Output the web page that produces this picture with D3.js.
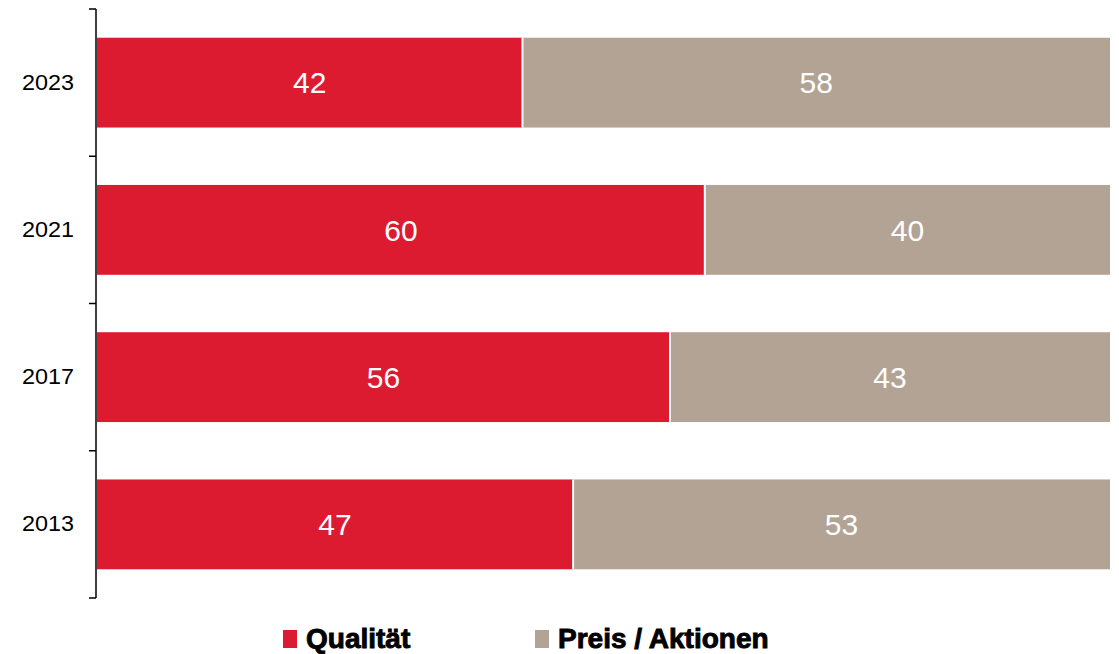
<!DOCTYPE html>
<html>
<head>
<meta charset="utf-8">
<script src="https://cdn.jsdelivr.net/npm/d3@7"></script>
<style>
  body { margin: 0; background: #fff; }
  svg { display: block; font-family: "Liberation Sans", Arial, sans-serif; }
</style>
</head>
<body>
<svg id="chart"></svg>
<script>
// data
const years = ['2023', '2021', '2017', '2013'];
const qualitaet = [42, 60, 56, 47];
const preis = [58, 40, 43, 53];
const seriesNames = ['Qualität', 'Preis / Aktionen'];
const seriesColors = ['#DC1B31', '#B2A394'];

const width = 1119, height = 654;
const margin = {top: 9, right: 9, bottom: 56, left: 97};

const svg = d3.select('#chart')
    .attr('width', width)
    .attr('height', height);

const rows = years.map((y, i) => ({year: y, values: [qualitaet[i], preis[i]]}));

// scales
const yScale = d3.scaleBand()
    .domain(years)
    .range([margin.top, height - margin.bottom]);

const xScale = d3.scaleLinear()
    .domain([0, 1])
    .range([margin.left, width - margin.right]);

const barH = yScale.bandwidth() * 0.61;
const barY = d => yScale(d) + (yScale.bandwidth() - barH) / 2;

// each row is normalised to its own total
rows.forEach(r => {
    const total = d3.sum(r.values);
    let acc = 0;
    r.segments = r.values.map((v, k) => {
        const s = {year: r.year, value: v, k: k, x0: acc / total, x1: (acc + v) / total};
        acc += v;
        return s;
    });
});
const segs = rows.flatMap(r => r.segments);

svg.append('g').selectAll('rect')
    .data(segs)
    .join('rect')
    .attr('x', d => xScale(d.x0))
    .attr('width', d => xScale(d.x1) - xScale(d.x0))
    .attr('y', d => barY(d.year))
    .attr('height', barH)
    .attr('fill', d => seriesColors[d.k]);

// white separators between segments
svg.append('g').selectAll('line')
    .data(segs.filter(d => d.k > 0))
    .join('line')
    .attr('x1', d => xScale(d.x0))
    .attr('x2', d => xScale(d.x0))
    .attr('y1', d => barY(d.year))
    .attr('y2', d => barY(d.year) + barH)
    .attr('stroke', '#fff')
    .attr('stroke-width', 2);

// value labels
svg.append('g').selectAll('text')
    .data(segs)
    .join('text')
    .attr('x', d => (xScale(d.x0) + xScale(d.x1)) / 2)
    .attr('y', d => yScale(d.year) + yScale.bandwidth() / 2)
    .attr('dy', '0.36em')
    .attr('text-anchor', 'middle')
    .attr('fill', '#fff')
    .attr('font-size', 30)
    .text(d => d.value);

// y axis: labels at band centres, ticks at band edges
const axisX = margin.left - 1;
const yAxisG = svg.append('g')
    .attr('transform', `translate(${axisX},0)`)
    .call(d3.axisLeft(yScale).tickSize(0).tickPadding(22));
yAxisG.select('.domain').remove();
yAxisG.selectAll('text')
    .attr('font-size', 21.5)
    .attr('font-family', '"Liberation Sans", Arial, sans-serif')
    .attr('fill', '#000')
    .attr('textLength', 52)
    .attr('lengthAdjust', 'spacingAndGlyphs');

const edges = years.map(y => yScale(y)).concat([yScale.range()[1]]);
svg.append('line')
    .attr('x1', axisX).attr('x2', axisX)
    .attr('y1', edges[0]).attr('y2', edges[edges.length - 1])
    .attr('stroke', '#000')
    .attr('stroke-width', 1.5);
svg.append('g').selectAll('line')
    .data(edges)
    .join('line')
    .attr('x1', axisX - 7).attr('x2', axisX)
    .attr('y1', d => d).attr('y2', d => d)
    .attr('stroke', '#000')
    .attr('stroke-width', 1.5);

// legend
const legendX = [283, 535];
const legend = svg.append('g').selectAll('g')
    .data(seriesNames)
    .join('g')
    .attr('transform', (d, i) => `translate(${legendX[i]},630)`);
legend.append('rect')
    .attr('width', 14)
    .attr('height', 18)
    .attr('fill', (d, i) => seriesColors[i]);
legend.append('text')
    .attr('x', 23)
    .attr('y', 18)
    .attr('font-size', 28)
    .attr('font-weight', 'bold')
    .attr('fill', '#000')
    .attr('stroke', '#000')
    .attr('stroke-width', 0.9)
    .text(d => d);
</script>
</body>
</html>
